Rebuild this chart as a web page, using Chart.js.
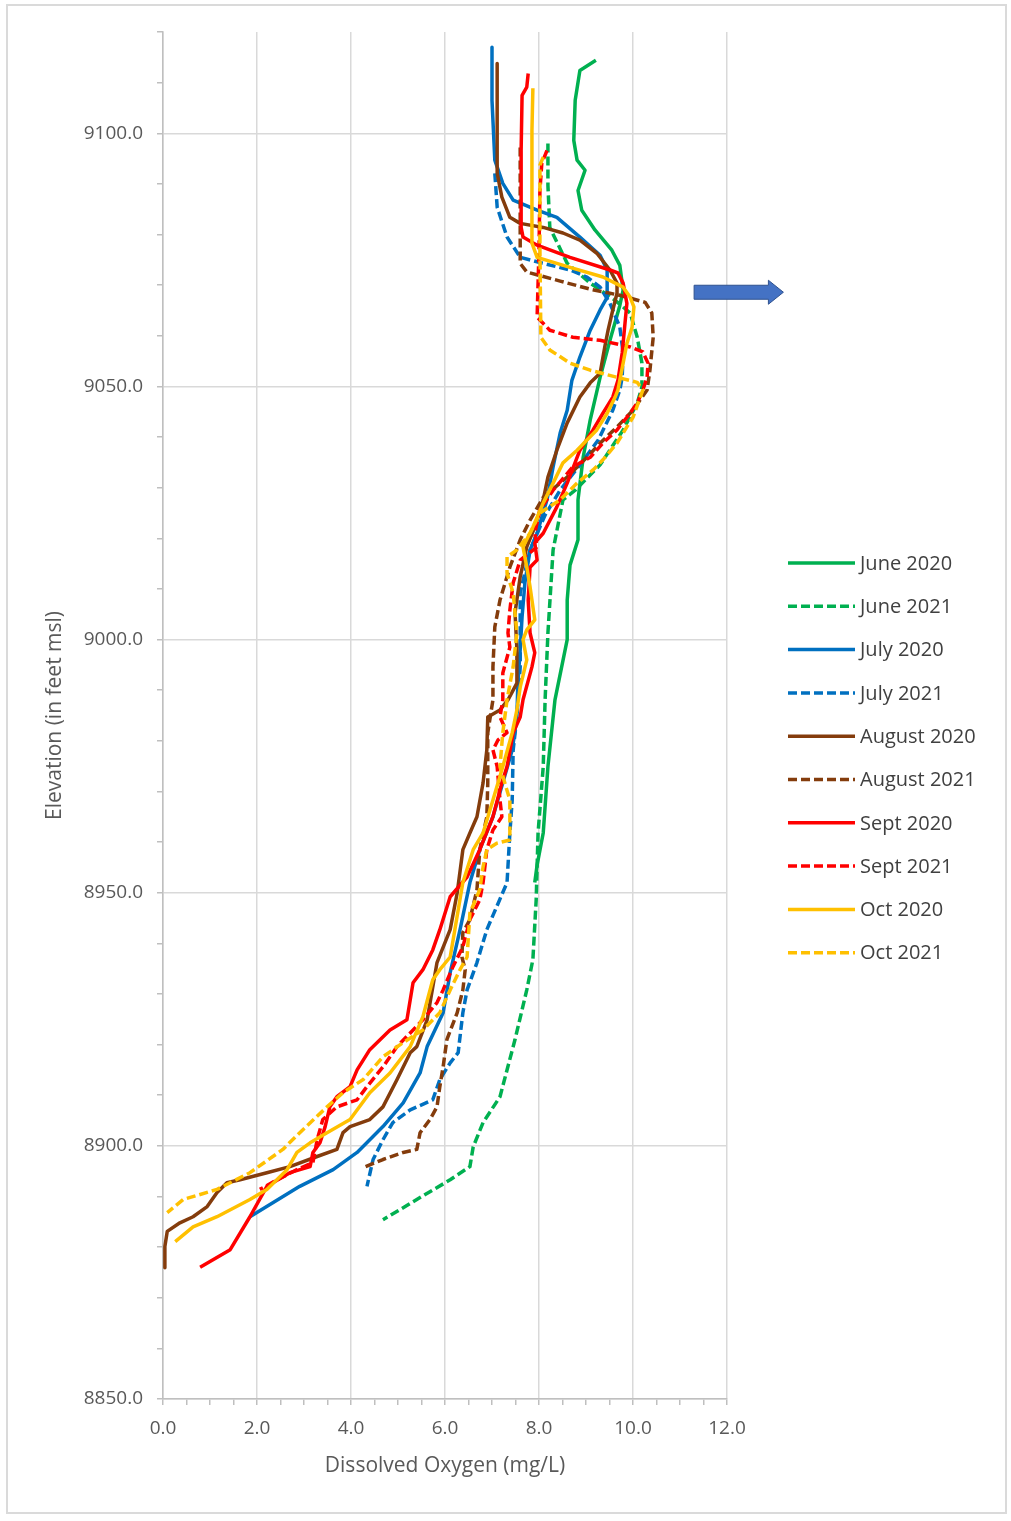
<!DOCTYPE html>
<html lang="en">
<head>
  <meta charset="UTF-8" />
  <title>Dissolved Oxygen Profiles</title>
  <script src="https://cdn.jsdelivr.net/npm/chart.js"></script>
  <style>
    html, body {
      margin: 0;
      padding: 0;
      background: #ffffff;
    }
    #wrap {
      position: relative;
      width: 1011px;
      height: 1521px;
    }
    #frame {
      position: absolute;
      left: 6px;
      top: 4px;
      width: 997px;
      height: 1506px;
      border: 2px solid #dadada;
      pointer-events: none;
    }
  </style>
</head>
<body>
  <div id="wrap">
    <canvas id="doChart"></canvas>
    <div id="frame"></div>
  </div>

  <script>
    // series names (legend order)
    const seriesNames = ["June 2020", "June 2021", "July 2020", "July 2021", "August 2020",
                         "August 2021", "Sept 2020", "Sept 2021", "Oct 2020", "Oct 2021"];

    // dissolved oxygen (mg/L) and elevation (ft msl) read from the profiles
    const june2020DO = [9.21, 8.87, 8.77, 8.74, 8.81, 8.98, 8.83, 8.91, 9.19, 9.55, 9.72, 9.79, 9.72, 9.51, 9.30, 9.09, 8.94, 8.83, 8.83, 8.66, 8.60, 8.60, 8.34, 8.19, 8.09, 7.96, 7.91];
    const june2020Elev = [9114.4, 9112.4, 9106.5, 9098.6, 9094.7, 9092.7, 9088.7, 9084.8, 9080.9, 9076.9, 9073.9, 9069.0, 9066.0, 9059.1, 9051.8, 9043.4, 9036.0, 9027.6, 9019.7, 9014.7, 9007.8, 9000.0, 8988.1, 8974.9, 8961.8, 8955.5, 8952.0];

    const june2021DO = [8.19, 8.19, 8.23, 8.60, 9.09, 9.62, 9.94, 10.09, 10.19, 10.19, 10.09, 9.79, 9.30, 8.77, 8.51, 8.30, 8.19, 8.13, 8.09, 7.98, 7.94, 7.87, 7.74, 7.49, 7.17, 6.81, 6.60, 6.53, 6.11, 5.40, 4.68];
    const june2021Elev = [9098.0, 9089.7, 9081.4, 9074.3, 9070.4, 9067.0, 9064.5, 9059.7, 9054.6, 9049.9, 9046.7, 9041.4, 9034.5, 9029.5, 9027.6, 9017.7, 9001.3, 8988.1, 8974.9, 8961.8, 8948.6, 8936.8, 8930.8, 8921.0, 8909.7, 8904.6, 8899.8, 8895.9, 8893.3, 8889.4, 8885.4];

    const july2020DO = [7.00, 7.00, 7.06, 7.23, 7.45, 7.96, 8.38, 8.87, 9.30, 9.45, 9.45, 9.30, 9.09, 8.87, 8.70, 8.60, 8.45, 8.30, 8.17, 7.96, 7.81, 7.70, 7.64, 7.60, 7.55, 7.53, 7.43, 7.23, 7.02, 6.74, 6.53, 6.32, 6.11, 5.96, 5.62, 5.47, 5.11, 4.68, 4.13, 3.62, 2.91, 1.85];
    const july2020Elev = [9117.0, 9106.5, 9094.7, 9090.1, 9086.8, 9084.8, 9083.4, 9079.5, 9075.9, 9073.0, 9067.6, 9065.1, 9061.1, 9055.8, 9051.2, 9045.3, 9040.8, 9034.1, 9027.6, 9021.0, 9017.7, 9011.2, 9004.5, 8998.0, 8991.4, 8984.7, 8978.2, 8971.7, 8965.0, 8958.5, 8952.0, 8942.7, 8934.2, 8926.3, 8919.6, 8914.4, 8908.5, 8903.8, 8898.7, 8895.3, 8892.0, 8886.0];

    const july2021DO = [7.06, 7.11, 7.32, 7.60, 8.09, 8.66, 9.02, 9.30, 9.51, 9.72, 9.79, 9.77, 9.72, 9.57, 9.26, 8.87, 8.45, 8.13, 7.81, 7.60, 7.60, 7.53, 7.45, 7.43, 7.38, 7.32, 6.89, 6.68, 6.47, 6.38, 6.28, 6.11, 5.89, 5.74, 5.26, 4.89, 4.68, 4.47, 4.34];
    const july2021Elev = [9092.1, 9085.4, 9079.5, 9075.5, 9074.3, 9073.0, 9071.6, 9069.6, 9066.4, 9061.7, 9056.6, 9051.8, 9049.3, 9045.3, 9039.4, 9034.5, 9029.5, 9024.6, 9017.7, 9009.2, 8994.6, 8984.7, 8978.2, 8968.3, 8961.8, 8952.0, 8942.7, 8936.2, 8930.8, 8926.3, 8918.4, 8916.4, 8913.1, 8909.1, 8907.1, 8904.6, 8901.2, 8897.3, 8892.0];

    const aug2020DO = [7.11, 7.11, 7.11, 7.21, 7.38, 7.60, 8.09, 8.51, 8.87, 9.23, 9.51, 9.66, 9.66, 9.57, 9.47, 9.40, 9.30, 9.09, 8.87, 8.60, 8.38, 8.19, 8.09, 7.91, 7.74, 7.60, 7.49, 7.53, 7.53, 7.34, 7.17, 6.91, 6.89, 6.81, 6.68, 6.53, 6.38, 6.26, 6.11, 5.83, 5.62, 5.40, 5.26, 4.98, 4.68, 4.40, 3.98, 3.83, 3.70, 3.28, 2.70, 2.21, 1.64, 1.36, 1.15, 0.94, 0.64, 0.36, 0.09, 0.04, 0.04];
    const aug2020Elev = [9113.8, 9102.6, 9092.1, 9087.4, 9083.4, 9082.2, 9081.4, 9080.3, 9078.9, 9076.3, 9073.0, 9070.4, 9068.4, 9065.1, 9061.1, 9057.8, 9052.6, 9050.7, 9047.9, 9042.8, 9037.4, 9032.1, 9027.6, 9022.2, 9018.3, 9012.4, 9005.3, 8998.0, 8991.4, 8988.1, 8986.1, 8984.7, 8978.2, 8971.7, 8965.0, 8961.8, 8958.5, 8950.0, 8942.7, 8936.2, 8924.9, 8919.6, 8918.4, 8913.1, 8907.7, 8905.2, 8903.8, 8902.6, 8899.3, 8897.9, 8895.9, 8894.7, 8893.3, 8892.7, 8890.8, 8888.0, 8886.0, 8884.8, 8883.1, 8880.1, 8875.9];

    const aug2021DO = [7.60, 7.60, 7.60, 7.74, 8.45, 9.09, 9.72, 10.26, 10.40, 10.43, 10.36, 10.30, 10.00, 9.66, 9.30, 9.02, 8.60, 8.09, 7.81, 7.60, 7.38, 7.17, 7.06, 7.02, 7.02, 6.91, 6.91, 6.89, 6.74, 6.68, 6.53, 6.38, 6.36, 6.43, 6.38, 6.26, 6.04, 5.96, 5.89, 5.83, 5.68, 5.47, 5.40, 5.11, 4.68, 4.26];
    const aug2021Elev = [9097.2, 9086.8, 9074.3, 9072.6, 9070.8, 9069.2, 9068.0, 9066.6, 9064.5, 9059.7, 9053.2, 9049.3, 9045.3, 9042.0, 9038.8, 9036.0, 9032.1, 9028.1, 9023.6, 9019.7, 9014.3, 9007.8, 9002.5, 8994.6, 8988.1, 8981.6, 8971.7, 8965.0, 8958.5, 8950.6, 8944.7, 8942.1, 8937.3, 8934.8, 8930.8, 8926.3, 8921.0, 8915.6, 8911.7, 8907.7, 8905.2, 8902.6, 8899.3, 8898.7, 8897.3, 8895.7];

    const sept2020DO = [7.77, 7.74, 7.64, 7.62, 7.62, 7.66, 7.96, 8.66, 9.51, 9.68, 9.79, 9.87, 9.83, 9.77, 9.68, 9.57, 9.36, 9.15, 8.87, 8.60, 8.38, 8.09, 7.91, 7.96, 7.81, 7.77, 7.81, 7.91, 7.85, 7.66, 7.60, 7.45, 7.32, 7.21, 7.02, 6.74, 6.47, 6.11, 5.89, 5.74, 5.53, 5.32, 5.19, 4.83, 4.40, 4.13, 3.98, 3.70, 3.55, 3.45, 3.34, 3.19, 3.13, 2.70, 2.21, 1.85, 1.43, 0.79];
    const sept2020Elev = [9111.8, 9109.1, 9107.5, 9096.6, 9081.4, 9079.5, 9077.9, 9075.5, 9073.0, 9072.4, 9070.4, 9066.4, 9062.5, 9056.6, 9051.2, 9047.9, 9044.7, 9041.4, 9037.4, 9030.9, 9026.2, 9021.0, 9019.1, 9015.7, 9014.3, 9007.8, 9001.3, 8997.4, 8994.6, 8988.1, 8984.7, 8981.6, 8974.9, 8971.7, 8965.0, 8958.5, 8953.1, 8949.2, 8942.7, 8938.7, 8934.8, 8932.2, 8924.9, 8922.9, 8919.0, 8915.0, 8911.7, 8909.7, 8907.7, 8903.8, 8900.6, 8898.7, 8895.9, 8894.7, 8892.0, 8886.0, 8879.5, 8876.0];

    const sept2021DO = [8.17, 8.06, 8.02, 8.00, 7.96, 8.23, 8.72, 9.30, 9.94, 10.21, 10.32, 10.30, 10.21, 10.09, 9.87, 9.66, 9.36, 9.09, 8.72, 8.30, 8.02, 7.91, 7.96, 7.60, 7.45, 7.38, 7.34, 7.38, 7.23, 7.23, 7.17, 7.32, 7.13, 7.02, 7.11, 7.17, 7.21, 7.02, 6.89, 6.81, 6.74, 6.53, 6.38, 6.17, 5.96, 5.83, 5.53, 5.26, 4.98, 4.68, 4.34, 4.13, 3.70, 3.40, 3.28, 3.19, 2.85, 2.43, 2.06];
    const sept2021Elev = [9096.6, 9094.1, 9088.7, 9076.9, 9063.7, 9061.1, 9059.7, 9059.1, 9057.8, 9056.8, 9054.6, 9051.8, 9049.3, 9046.7, 9043.9, 9041.4, 9038.8, 9036.0, 9034.1, 9029.5, 9025.6, 9021.0, 9018.3, 9015.7, 9011.2, 9005.8, 9001.3, 8998.5, 8993.4, 8988.1, 8984.7, 8981.6, 8980.2, 8978.2, 8974.9, 8968.3, 8965.0, 8962.4, 8958.5, 8952.0, 8948.6, 8944.7, 8939.3, 8935.4, 8930.8, 8928.3, 8924.9, 8922.3, 8919.6, 8915.6, 8911.7, 8909.1, 8907.7, 8905.2, 8901.2, 8896.7, 8895.3, 8893.3, 8891.4];

    const oct2020DO = [7.87, 7.85, 7.85, 7.96, 8.66, 9.36, 9.79, 9.94, 10.02, 9.98, 9.87, 9.79, 9.68, 9.62, 9.45, 9.23, 9.02, 8.81, 8.51, 8.30, 8.09, 7.87, 7.66, 7.74, 7.81, 7.91, 7.74, 7.66, 7.74, 7.60, 7.53, 7.43, 7.23, 7.02, 6.81, 6.60, 6.38, 6.21, 6.11, 5.89, 5.74, 5.53, 5.26, 4.83, 4.40, 3.98, 3.49, 3.13, 2.85, 2.64, 2.21, 1.85, 1.15, 0.64, 0.26];
    const oct2020Elev = [9108.9, 9100.6, 9078.3, 9075.5, 9073.5, 9071.6, 9069.6, 9067.6, 9065.7, 9061.7, 9058.5, 9054.6, 9049.3, 9047.9, 9044.7, 9041.4, 9039.4, 9037.4, 9034.9, 9030.9, 9027.0, 9022.2, 9018.3, 9014.3, 9010.4, 9003.9, 9001.9, 9000.0, 8996.0, 8990.6, 8986.1, 8981.6, 8974.9, 8968.3, 8961.8, 8958.5, 8952.0, 8942.7, 8937.3, 8934.8, 8932.8, 8925.5, 8919.6, 8914.4, 8910.5, 8905.2, 8902.6, 8900.6, 8898.7, 8895.3, 8891.4, 8889.4, 8886.0, 8884.0, 8881.1];

    const oct2021DO = [8.09, 8.02, 8.02, 8.04, 8.23, 8.66, 9.09, 9.66, 10.09, 10.21, 10.11, 10.00, 9.87, 9.66, 9.36, 9.15, 8.81, 8.45, 8.02, 7.81, 7.53, 7.32, 7.32, 7.45, 7.53, 7.45, 7.32, 7.23, 7.17, 7.38, 7.38, 7.11, 6.89, 6.81, 6.74, 6.53, 6.47, 6.32, 6.11, 5.89, 5.53, 5.11, 4.68, 4.26, 3.83, 3.49, 2.91, 2.55, 1.85, 1.15, 0.43, 0.09];
    const oct2021Elev = [9095.3, 9093.7, 9076.9, 9059.7, 9057.2, 9054.6, 9053.2, 9051.8, 9050.8, 9049.3, 9046.7, 9043.9, 9042.0, 9038.8, 9035.5, 9033.5, 9030.9, 9027.6, 9025.0, 9021.0, 9017.7, 9016.3, 9013.1, 9009.2, 9001.3, 8994.6, 8988.1, 8981.6, 8974.9, 8968.3, 8960.4, 8959.8, 8958.5, 8955.1, 8950.6, 8946.0, 8937.3, 8934.8, 8930.8, 8926.3, 8922.9, 8920.4, 8917.6, 8913.1, 8910.5, 8907.7, 8902.6, 8899.3, 8894.7, 8891.4, 8889.4, 8886.8];

    // axis ranges and labelled ticks
    const xMin = 0, xMax = 12, xMinorStep = 0.5, xMajorStep = 2;
    const yMin = 8850, yMax = 9120, yMinorStep = 10, yMajorStep = 50;

    // arrow annotation (in data units)
    const arrowY = 9068.6, arrowFrom = 11.3, arrowTo = 13.2;

    const doValues = [june2020DO, june2021DO, july2020DO, july2021DO, aug2020DO,
                      aug2021DO, sept2020DO, sept2021DO, oct2020DO, oct2021DO];
    const elevValues = [june2020Elev, june2021Elev, july2020Elev, july2021Elev, aug2020Elev,
                        aug2021Elev, sept2020Elev, sept2021Elev, oct2020Elev, oct2021Elev];

    const seriesColors = ["#00b050", "#00b050", "#0070c0", "#0070c0", "#843c0c",
                          "#843c0c", "#ff0000", "#ff0000", "#ffc000", "#ffc000"];
    const DASH = [9, 4];

    const FONT = "'Open Sans', 'Noto Sans', sans-serif";
    const TEXT = "#595959";

    const datasets = seriesNames.map((name, i) => ({
      label: name,
      data: doValues[i].map((v, j) => ({ x: v, y: elevValues[i][j] })),
      borderColor: seriesColors[i],
      backgroundColor: seriesColors[i],
      borderWidth: 3.5,
      borderDash: i % 2 ? DASH : [],
      borderJoinStyle: "round",
      showLine: true,
      pointRadius: 0,
      tension: 0,
      order: seriesNames.length - i
    }));

    // legend + arrow drawn on top of the chart
    const extras = {
      id: "extras",
      afterDraw(chart) {
        const ctx = chart.ctx;
        const xs = chart.scales.x, ys = chart.scales.y;

        // legend
        const lx = 788, ly = 563, gap = 43.3, len = 67;
        ctx.save();
        ctx.font = "20px " + FONT;
        ctx.textBaseline = "middle";
        ctx.textAlign = "left";
        seriesNames.forEach((name, i) => {
          const y = ly + i * gap;
          ctx.strokeStyle = seriesColors[i];
          ctx.lineWidth = 3.5;
          ctx.setLineDash(i % 2 ? DASH : []);
          ctx.beginPath();
          ctx.moveTo(lx, y);
          ctx.lineTo(lx + len, y);
          ctx.stroke();
          ctx.setLineDash([]);
          ctx.fillStyle = "#404040";
          ctx.fillText(name, lx + len + 5, y + 1);
        });

        // block arrow
        const ay = ys.getPixelForValue(arrowY);
        const a0 = xs.getPixelForValue(arrowFrom);
        const a1 = xs.getPixelForValue(arrowTo);
        const head = 15, half = 7, hh = 12;
        ctx.beginPath();
        ctx.moveTo(a0, ay - half);
        ctx.lineTo(a1 - head, ay - half);
        ctx.lineTo(a1 - head, ay - hh);
        ctx.lineTo(a1, ay);
        ctx.lineTo(a1 - head, ay + hh);
        ctx.lineTo(a1 - head, ay + half);
        ctx.lineTo(a0, ay + half);
        ctx.closePath();
        ctx.fillStyle = "#4472c4";
        ctx.fill();
        ctx.strokeStyle = "#2f528f";
        ctx.lineWidth = 1;
        ctx.stroke();
        ctx.restore();
      }
    };

    new Chart(document.getElementById("doChart"), {
      type: "scatter",
      data: { datasets },
      options: {
        responsive: true,
        maintainAspectRatio: false,
        animation: false,
        events: [],
        layout: { padding: { left: 0, top: 32, right: 284, bottom: 0 } },
        plugins: {
          legend: { display: false },
          tooltip: { enabled: false }
        },
        scales: {
          x: {
            type: "linear",
            min: xMin,
            max: xMax,
            afterFit: s => { s.height = 122; },
            ticks: {
              stepSize: xMinorStep,
              autoSkip: false,
              maxRotation: 0,
              padding: 12,
              color: TEXT,
              font: { family: FONT, size: 19 },
              callback: v => (v % xMajorStep === 0 ? v.toFixed(1) : "")
            },
            grid: {
              color: c => (c.tick && c.tick.value % xMajorStep === 0 ? "#d9d9d9" : "rgba(0,0,0,0)"),
              tickColor: "#bfbfbf",
              tickLength: 6,
              lineWidth: 1.5
            },
            border: { color: "#bfbfbf", width: 1.5 },
            title: {
              display: true,
              text: "Dissolved Oxygen (mg/L)",
              color: TEXT,
              font: { family: FONT, size: 21 },
              padding: { top: 0, bottom: 42 }
            }
          },
          y: {
            type: "linear",
            min: yMin,
            max: yMax,
            afterFit: s => { s.width = 163; },
            ticks: {
              stepSize: yMinorStep,
              autoSkip: false,
              padding: 14,
              color: TEXT,
              font: { family: FONT, size: 19 },
              callback: v => (v % yMajorStep === 0 ? v.toFixed(1) : "")
            },
            grid: {
              color: c => (c.tick && c.tick.value % yMajorStep === 0 ? "#d9d9d9" : "rgba(0,0,0,0)"),
              tickColor: "#bfbfbf",
              tickLength: 6,
              lineWidth: 1.5
            },
            border: { color: "#bfbfbf", width: 1.5 },
            title: {
              display: true,
              text: "Elevation (in feet msl)",
              color: TEXT,
              font: { family: FONT, size: 21 },
              padding: { top: 42, bottom: 0 }
            }
          }
        }
      },
      plugins: [extras]
    });
  </script>
</body>
</html>
